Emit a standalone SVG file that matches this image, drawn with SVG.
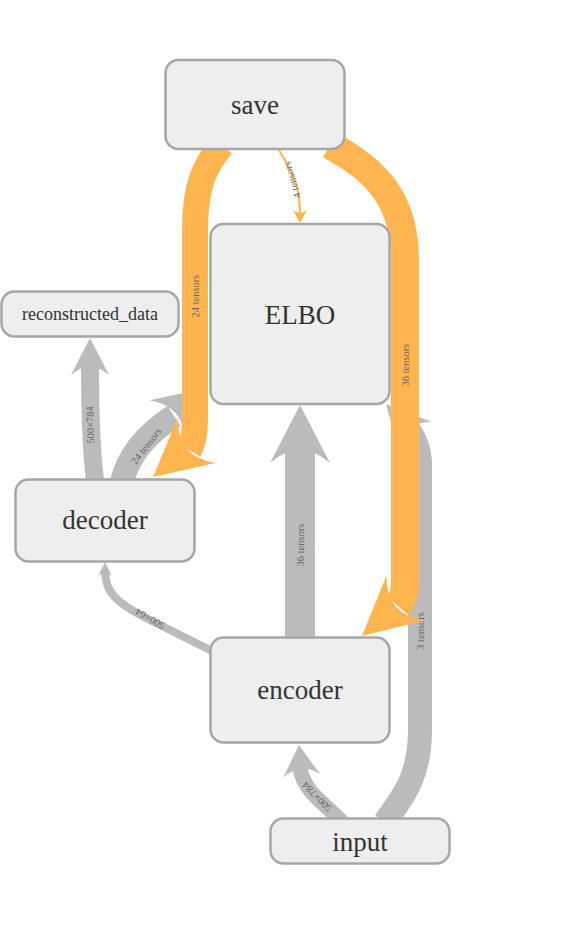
<svg xmlns="http://www.w3.org/2000/svg" xmlns:xlink="http://www.w3.org/1999/xlink" width="570" height="925" viewBox="0 0 570 925">
<style>
.bg{fill:#ffffff}
.eo{fill:none;stroke:#ffb54f}
.eg{fill:none;stroke:#bbbbbb}
.ho{fill:#ffb54f}
.hg{fill:#bbbbbb}
.node rect{fill:#eeeeee;stroke:#a6a6a6;stroke-width:2.5}
.node text{font-family:"Liberation Serif","DejaVu Serif",serif;fill:#333333;text-anchor:middle}
.lbl{font-family:"Liberation Serif","DejaVu Serif",serif;font-size:10.5px;fill:#666666;text-anchor:middle}
</style>
<defs>
<path id="ah" d="M0,0 L-1,-0.5 Q-0.55,0 -1,0.5 Z"/>
</defs>
<rect class="bg" x="0" y="0" width="570" height="925"/>
<g id="edges">
  <!-- decoder -> reconstructed_data -->
  <path class="eg" stroke-width="18" d="M95,480 C91,450 90,420 90,362"/>
  <use href="#ah" class="hg" transform="translate(90,338) rotate(-90) scale(37,38)"/>
  <text class="lbl" transform="translate(90,425) rotate(-92)" dy="0.35em">500×784</text>
  <!-- decoder -> ELBO -->
  <path class="eg" stroke-width="24" d="M122,482 C128,455 148,433 174,416"/>
  <use href="#ah" class="hg" transform="translate(207,388) rotate(-40) scale(52,55)"/>
  <text class="lbl" transform="translate(146,446) rotate(-52)" dy="0.35em">24 tensors</text>
  <!-- encoder -> decoder -->
  <path class="eg" stroke-width="8" d="M212,651 L150,620 C116,603 105,592 105,571"/>
  <use href="#ah" class="hg" transform="translate(105,562) rotate(-90) scale(14,14)"/>
  <text class="lbl" transform="translate(150,619) rotate(-150)" dy="0.35em">500×64</text>
  <!-- encoder -> ELBO -->
  <path class="eg" stroke-width="30" d="M300,640 L300,446"/>
  <use href="#ah" class="hg" transform="translate(300,405) rotate(-90) scale(58,60)"/>
  <text class="lbl" transform="translate(300,545) rotate(-90)" dy="0.35em">36 tensors</text>
  <!-- input -> encoder -->
  <path class="eg" stroke-width="15" d="M342,822 C326,804 304,793 300,768"/>
  <use href="#ah" class="hg" transform="translate(299,745) rotate(-95) scale(31,37)"/>
  <text class="lbl" transform="translate(317,797) rotate(-135)" dy="0.35em">500×784</text>
  <!-- input -> ELBO -->
  <path class="eg" stroke-width="24" d="M385,822 C400,800 420,780 420,730 L420,470 Q421,446 408,429"/>
  <use href="#ah" class="hg" transform="translate(386,404) rotate(-132) scale(44,44)"/>
  <text class="lbl" transform="translate(420,631) rotate(-90)" dy="0.35em">3 tensors</text>
  <!-- save -> ELBO -->
  <path class="eo" stroke-width="2" d="M279,150 C292,172 300,185 300,213"/>
  <use href="#ah" class="ho" transform="translate(300,223) rotate(90) scale(13,14)"/>
  <text class="lbl" transform="translate(292,180) rotate(-107)" dy="0.35em">4 tensors</text>
  <!-- save -> decoder -->
  <path class="eo" stroke-width="26" d="M222,145 C205,165 195,185 195,230 L195,420 Q195,440 189,450"/>
  <use href="#ah" class="ho" transform="translate(153,477) rotate(140) scale(57,59)"/>
  <text class="lbl" transform="translate(195,296) rotate(-90)" dy="0.35em">24 tensors</text>
  <!-- save -> encoder -->
  <path class="eo" stroke-width="28" d="M330,145 C365,165 405,190 405,260 L405,580 Q405,598 398,606"/>
  <use href="#ah" class="ho" transform="translate(362,636) rotate(139) scale(58,59)"/>
  <text class="lbl" transform="translate(405,365) rotate(-90)" dy="0.35em">36 tensors</text>
</g>
<g id="save" class="node">
  <rect x="165.5" y="60" width="179" height="89" rx="13"/>
  <text x="255" y="114" font-size="27">save</text>
</g>
<g id="ELBO" class="node">
  <rect x="210.5" y="224" width="179" height="180" rx="13"/>
  <text x="300" y="324" font-size="27">ELBO</text>
</g>
<g id="reconstructed_data" class="node">
  <rect x="1.5" y="291.5" width="177" height="45" rx="13"/>
  <text x="90" y="320" font-size="18">reconstructed_data</text>
</g>
<g id="decoder" class="node">
  <rect x="15.5" y="479.5" width="179" height="82" rx="13"/>
  <text x="105" y="529" font-size="27">decoder</text>
</g>
<g id="encoder" class="node">
  <rect x="210.5" y="637.5" width="179" height="105" rx="13"/>
  <text x="300" y="699" font-size="27">encoder</text>
</g>
<g id="input" class="node">
  <rect x="270.5" y="818.5" width="179" height="45" rx="13"/>
  <text x="360" y="851" font-size="27">input</text>
</g>
</svg>
